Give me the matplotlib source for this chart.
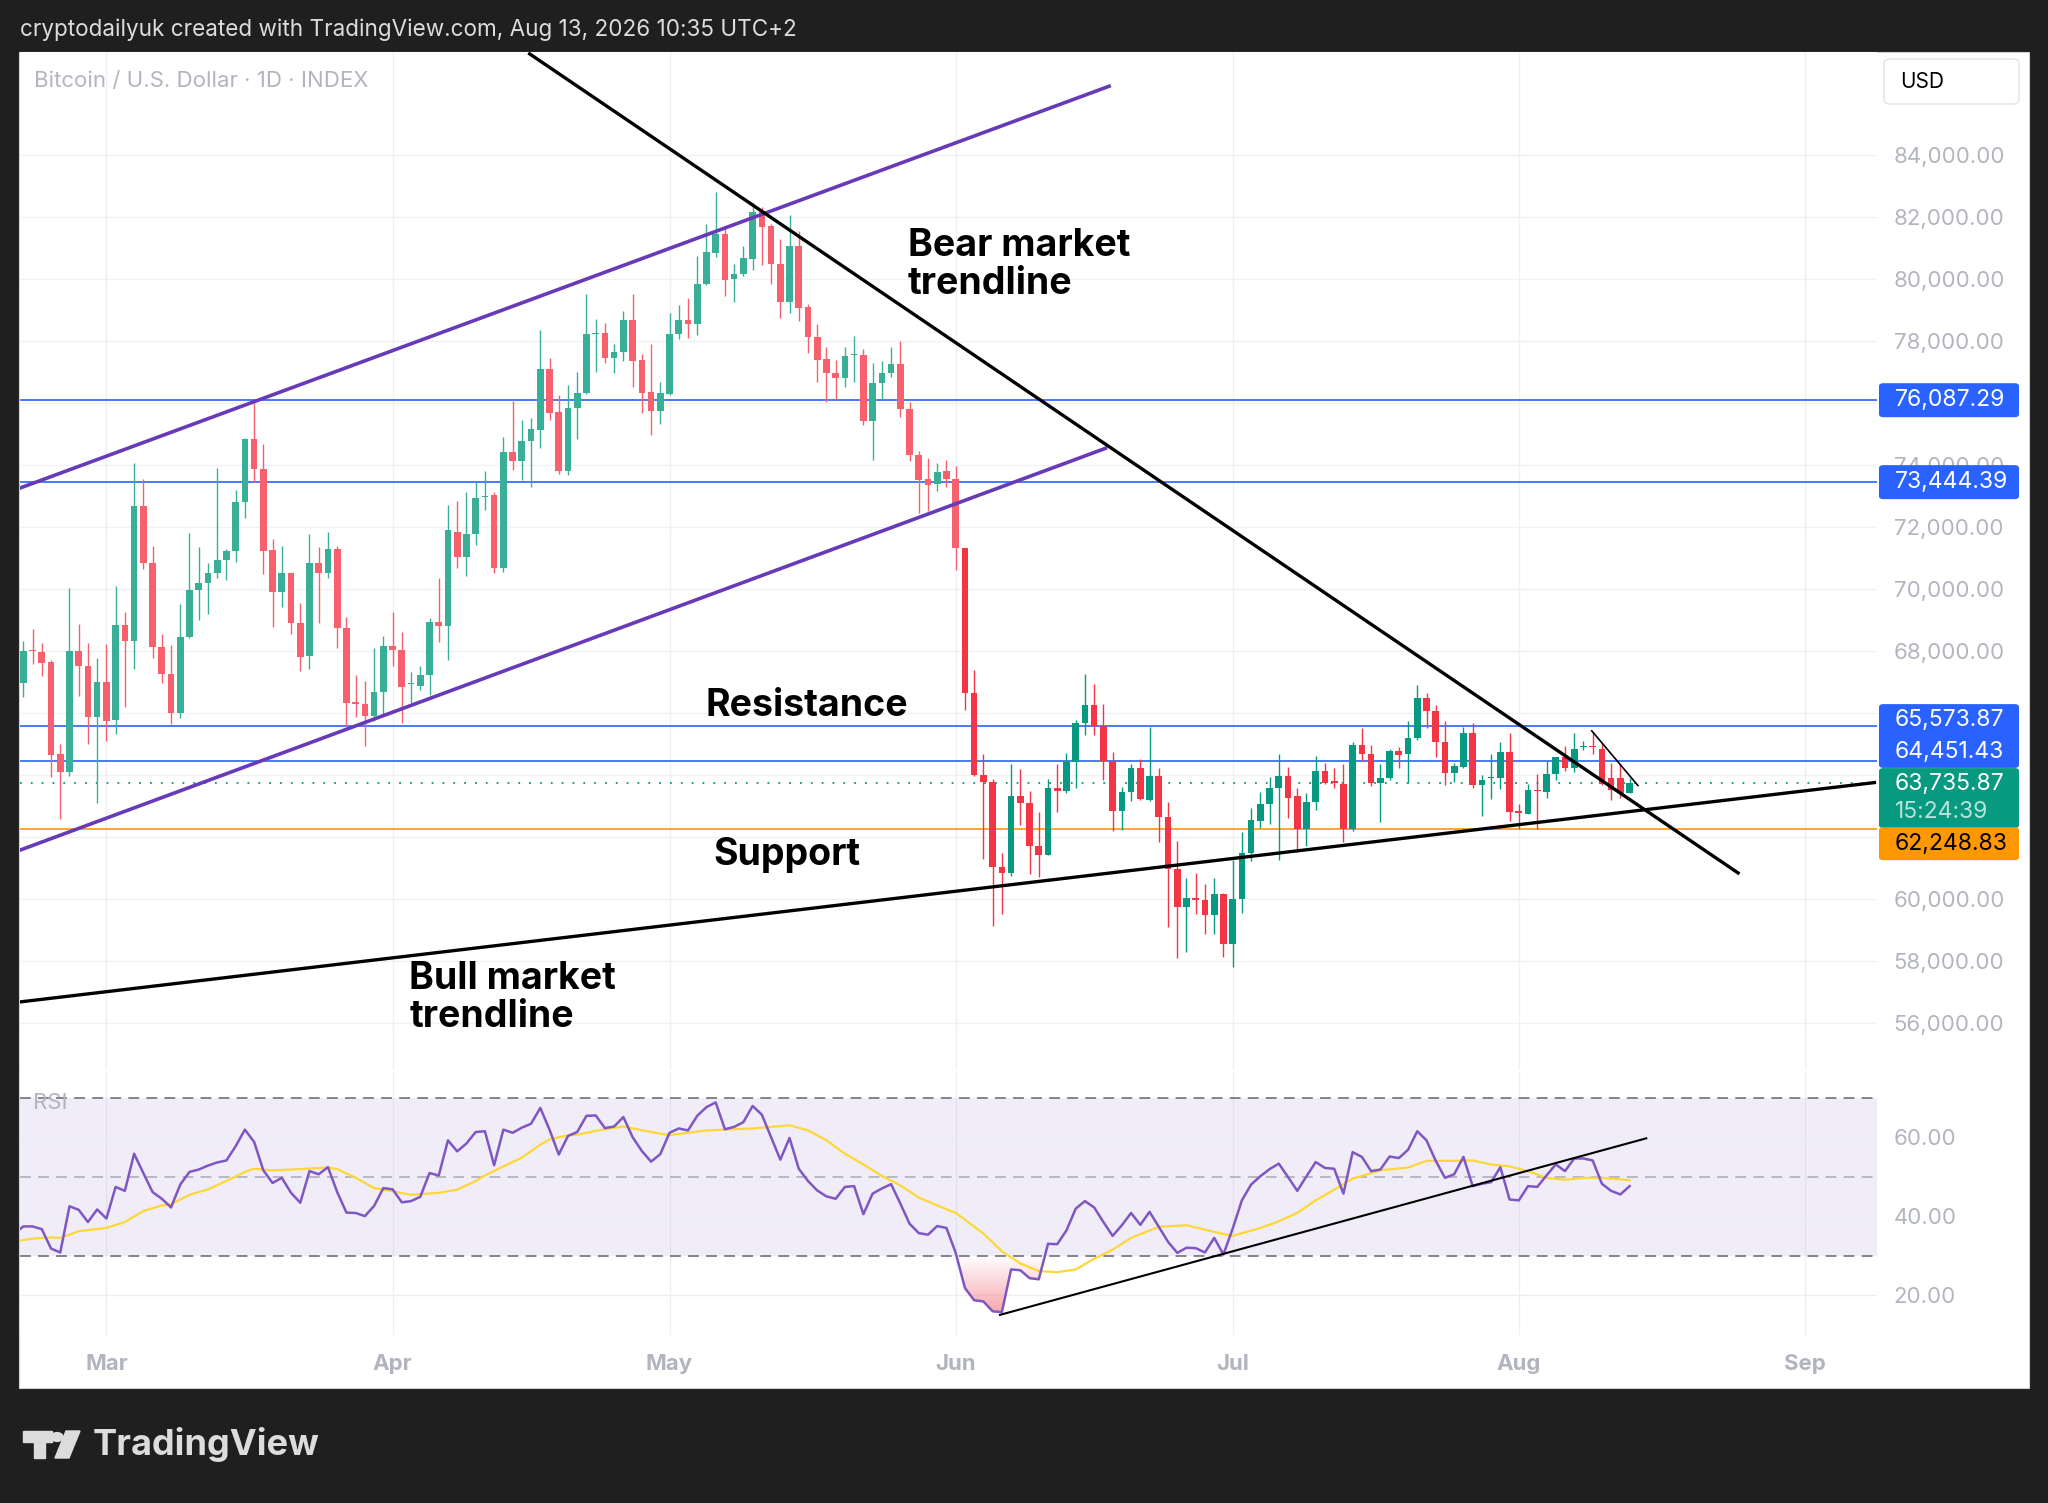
import numpy as np
import matplotlib
matplotlib.use("Agg")
import matplotlib.pyplot as plt
from matplotlib.patches import Rectangle, FancyBboxPatch, Polygon, Circle, PathPatch

plt.rcParams['font.family'] = ['Inter', 'DejaVu Sans']

# --- data (daily candles, Feb 20 -> Aug 13) ---
opens = [66970, 68030, 67970, 67650, 64670, 64080, 68000, 67510, 65880, 67000,
         65770, 68820, 68330, 72670, 70850, 68110, 67250, 65990, 68450, 69950,
         70200, 70510, 70940, 71210, 72810, 74850, 73880, 71240, 69910, 70510,
         68885, 67830, 70850, 70500, 71280, 68740, 66340, 66300, 65900, 66690,
         68150, 68040, 66920, 66860, 67230, 68940, 68800, 71850, 71040, 71770,
         72950, 73030, 70690, 74410, 74120, 74760, 75120, 77090, 75710, 73790,
         75840, 76330, 78230, 78270, 77440, 77630, 78680, 77380, 76350, 75740,
         76300, 78220, 78670, 78540, 79830, 80850, 81440, 80010, 80170, 80630,
         82190, 81710, 80470, 79270, 81060, 79080, 78140, 77410, 76950, 76790,
         77540, 77550, 75420, 76640, 76980, 77260, 75810, 74330, 73540, 73380,
         73790, 73560, 71310, 66650, 64000, 63780, 61040, 60850, 63310, 63080,
         61710, 61430, 63570, 63490, 64420, 65660, 66240, 65570, 64450, 62850,
         63460, 64230, 63200, 63950, 62630, 60980, 59740, 60030, 59950, 59480,
         60170, 58540, 59990, 61480, 62520, 63060, 63590, 63980, 63330, 62250,
         63140, 64110, 63790, 63700, 62250, 64960, 64690, 63750, 63890, 64780,
         64660, 65200, 66480, 66050, 65050, 64070, 64270, 65340, 63680, 63890,
         63890, 64730, 62830, 62750, 63520, 63460, 64030, 64590, 64230, 64910,
         64930, 64830, 63890, 63890, 63410]
highs = [68320, 68710, 68240, 67700, 65000, 70040, 68880, 68240, 67760, 68220,
         70100, 69260, 74050, 73560, 71400, 68560, 68180, 69520, 71800, 71340,
         70830, 73890, 71290, 73200, 74880, 76000, 74660, 71610, 71370, 70550,
         69530, 71770, 71340, 71820, 71370, 69090, 67210, 67040, 68080, 68470,
         69250, 68600, 67320, 67500, 69070, 70360, 72720, 72840, 73120, 73440,
         73800, 73140, 74900, 76060, 75440, 75500, 78360, 77440, 76250, 76570,
         77010, 79510, 78720, 78570, 77890, 78970, 79510, 77570, 77890, 76660,
         78910, 79160, 79400, 80740, 81780, 82810, 81660, 80470, 81060, 82460,
         82320, 81760, 81280, 82050, 81550, 79180, 78560, 77790, 77380, 77810,
         78160, 77750, 77300, 77360, 77810, 78000, 76020, 74460, 74210, 74050,
         74170, 73980, 71310, 67390, 64680, 63870, 61490, 64360, 64200, 63490,
         62800, 63870, 64360, 64710, 65760, 67240, 66930, 66300, 64740, 63620,
         64360, 64510, 65550, 64210, 63120, 61880, 60680, 60840, 60470, 60680,
         60200, 61270, 62160, 62930, 63440, 63920, 64660, 64270, 63570, 63410,
         64620, 64370, 64230, 64340, 65050, 65520, 64960, 64340, 64830, 64910,
         65740, 66890, 66650, 66250, 65740, 64370, 65530, 65660, 64000, 64660,
         65070, 65340, 63060, 63710, 64020, 64460, 64590, 64940, 65340, 65090,
         65390, 65020, 64370, 64340, 63910]
lows = [66500, 67575, 67190, 63930, 62580, 63950, 66550, 65000, 63080, 65100,
        65310, 66180, 67430, 70650, 67780, 66950, 65640, 65850, 68400, 68990,
        69200, 70360, 70300, 70880, 72280, 73460, 70490, 68770, 69400, 68530,
        67340, 67430, 68885, 70350, 68100, 65560, 65860, 64930, 65740, 65940,
        67500, 65670, 66310, 66750, 66580, 68280, 67700, 70690, 70420, 71410,
        72560, 70500, 70550, 73850, 73520, 73300, 74560, 75440, 73700, 73680,
        74830, 76300, 77000, 77300, 76960, 77360, 76500, 75690, 74960, 75310,
        76250, 78050, 78090, 78200, 79800, 80710, 79450, 79270, 80100, 80280,
        80440, 79830, 78730, 78910, 78650, 77620, 76660, 76040, 76100, 76500,
        76660, 75300, 74150, 76090, 76850, 75550, 74110, 72450, 72520, 73160,
        73280, 70600, 66100, 63950, 61300, 59130, 59510, 60750, 62380, 60790,
        60720, 61400, 62800, 63430, 63590, 65300, 65300, 63820, 62190, 62230,
        63150, 63180, 63150, 61840, 59100, 58080, 58300, 59500, 58860, 58860,
        58110, 57790, 59560, 61220, 62290, 62420, 61270, 62610, 61520, 61700,
        62880, 63700, 63590, 61840, 62200, 64450, 63650, 62480, 63840, 64230,
        63730, 65120, 65500, 64590, 63680, 63760, 64210, 63570, 62690, 63220,
        63550, 62500, 62270, 62740, 62270, 63270, 63820, 64110, 64080, 64800,
        64670, 63690, 63200, 63250, 63410]
closes = [67990, 67990, 67620, 64650, 64080, 68000, 67510, 65880, 67000, 65750,
          68820, 68330, 72670, 70850, 68110, 67250, 65990, 68450, 69950, 70200,
          70510, 70940, 71210, 72790, 74850, 73880, 71220, 69910, 70510, 68900,
          67805, 70850, 70500, 71280, 68740, 66310, 66300, 65900, 66690, 68170,
          68040, 66830, 66940, 67230, 68940, 68800, 71910, 71040, 71770, 72920,
          73010, 70690, 74410, 74120, 74760, 75150, 77090, 75690, 73790, 75840,
          76330, 78210, 78250, 77440, 77630, 78680, 77360, 76320, 75740, 76320,
          78220, 78670, 78540, 79830, 80880, 81440, 79970, 80170, 80670, 82160,
          81680, 80470, 79270, 81060, 79050, 78110, 77390, 76950, 76790, 77520,
          77560, 75420, 76640, 76980, 77260, 75810, 74330, 73500, 73350, 73770,
          73560, 71310, 66650, 64000, 63780, 61040, 60850, 63310, 63080, 61710,
          61430, 63570, 63470, 64420, 65660, 66240, 65570, 64450, 62850, 63460,
          64230, 63230, 63950, 62630, 60980, 59740, 60020, 59980, 59480, 60170,
          58540, 59990, 61480, 62550, 63060, 63590, 63980, 63270, 62250, 63140,
          64110, 63750, 63730, 62250, 64960, 64690, 63730, 63890, 64780, 64640,
          65200, 66480, 66050, 65050, 64070, 64290, 65340, 63680, 63840, 63910,
          64730, 62800, 62770, 63500, 63490, 64030, 64590, 64230, 64850, 64940,
          64910, 63700, 63500, 63410, 63736]

# RSI(14), first value is the day before the first candle
rsi = [35.5, 37.4, 37.4, 36.7, 31.8, 30.8, 42.5, 41.6, 38.5, 41.7, 39.4,
       47.4, 46.4, 55.8, 50.9, 46.1, 44.4, 42.2, 48.0, 51.2, 51.8,
       52.8, 53.6, 54.1, 57.7, 61.9, 58.8, 51.6, 48.4, 49.7, 45.9,
       43.4, 51.4, 50.6, 52.4, 46.1, 40.9, 40.8, 40.0, 42.6, 47.1,
       46.8, 43.5, 43.8, 44.9, 50.9, 50.3, 59.2, 56.4, 58.4, 61.3,
       61.5, 52.9, 61.9, 61.1, 62.4, 63.4, 67.4, 61.9, 55.6, 60.3,
       61.3, 65.4, 65.5, 62.3, 62.7, 65.1, 60.0, 56.5, 53.8, 55.7,
       61.1, 62.2, 61.7, 65.4, 67.6, 68.8, 62.0, 62.6, 63.8, 67.9,
       65.7, 60.0, 54.3, 59.8, 52.0, 48.9, 46.5, 45.0, 44.4, 47.4,
       47.6, 40.5, 45.7, 47.0, 48.1, 43.2, 38.1, 35.7, 35.3, 37.5,
       37.0, 30.7, 21.8, 18.7, 18.4, 15.9, 15.7, 26.5, 26.3, 24.3,
       24.0, 33.0, 32.9, 36.4, 41.9, 43.8, 42.2, 38.5, 35.0, 37.7,
       40.8, 37.8, 41.1, 37.3, 33.5, 30.7, 32.0, 31.9, 30.8, 34.5,
       30.3, 36.8, 44.0, 48.0, 50.1, 51.9, 53.3, 49.9, 46.4, 50.1,
       53.7, 52.2, 52.0, 45.7, 56.2, 55.0, 51.4, 51.8, 55.1, 54.7,
       56.8, 61.5, 59.2, 54.0, 49.7, 50.6, 55.0, 47.6, 48.2, 48.6,
       52.4, 44.2, 44.0, 47.6, 47.4, 50.3, 53.1, 51.4, 54.6, 54.6,
       54.1, 48.2, 46.4, 45.5, 47.6]
# RSI moving average, read at a set of days
ma_day = [-1, 1, 3, 4, 6, 9, 11, 13, 15, 16, 18, 20, 22, 24, 25, 27, 29, 33, 34,
          36, 38, 40, 42, 45, 47, 49, 50, 52, 54, 56, 57, 59, 60, 62, 65, 68, 70,
          74, 79, 83, 85, 87, 89, 91, 93, 95, 97, 99, 101, 102, 104, 106, 108, 110,
          112, 114, 116, 118, 120, 123, 126, 129, 131, 134, 136, 138, 140, 142,
          144, 147, 150, 152, 155, 157, 159, 161, 163, 165, 167, 169, 171, 174]
ma_val = [33.6, 34.3, 34.6, 34.5, 36.2, 37.0, 38.5, 41.3, 42.7, 43.0, 45.4, 46.8,
          48.9, 51.2, 52.0, 51.6, 51.8, 52.3, 51.9, 49.7, 47.1, 46.3, 45.4, 45.9,
          46.7, 48.9, 50.3, 52.6, 54.8, 58.1, 59.4, 60.5, 60.6, 61.6, 62.7, 61.3,
          60.5, 61.7, 62.2, 63.0, 61.7, 59.2, 55.8, 53.1, 50.2, 47.8, 44.7, 42.7,
          40.8, 39.1, 35.6, 31.1, 28.0, 26.1, 25.8, 26.5, 29.2, 31.5, 34.5, 37.3,
          37.7, 36.0, 35.0, 37.0, 38.7, 40.8, 44.0, 46.7, 49.5, 51.6, 52.3, 54.0,
          54.0, 54.1, 53.1, 52.6, 51.4, 49.7, 49.2, 49.7, 49.7, 49.1]

month_labels = ['Mar', 'Apr', 'May', 'Jun', 'Jul', 'Aug', 'Sep']
month_days = [9, 40, 70, 101, 131, 162, 193]

price_ticks = [56000, 58000, 60000, 68000, 70000, 72000, 74000, 78000, 80000, 82000, 84000]
grid_prices = list(range(56000, 86000, 2000))

blue_levels = [76087.29, 73444.39, 65573.87, 64451.43]
support_level = 62248.83
last_price = 63735.87
countdown = '15:24:39'

# drawn lines: (day, price) end points
bear_line = ([54.7, 185.9], [87289, 60807])
bull_line = ([-0.42, 200.7], [56674, 63758])
channel_top = ([-0.42, 117.8], [73247, 86235])
channel_bottom = ([-0.42, 117.4], [61566, 74554])
small_line = ([169.9, 174.9], [65422, 63657])
rsi_line = ([105.8, 175.8], [15.0, 59.7])

# --- layout (pixels) ---
W, H = 2048, 1503
fig = plt.figure(figsize=(W / 100, H / 100), dpi=100, facecolor='#1f1f1f')


def fx(x):
    return x / W


def fy(y):
    return 1 - y / H


fig.patches.append(Rectangle((fx(19), fy(1388)), (2029 - 19) / W, (1388 - 52) / H,
                             transform=fig.transFigure, facecolor='white',
                             edgecolor='#d0d0d0', lw=0.8, zorder=-10))

ax = fig.add_axes([fx(20), fy(1070), (1877 - 20) / W, (1070 - 52) / H])
ax2 = fig.add_axes([fx(20), fy(1335), (1877 - 20) / W, (1335 - 1072) / H])
for a in (ax, ax2):
    a.set_facecolor('white')
    for s in a.spines.values():
        s.set_visible(False)
    a.set_xlim(-0.36, 200.8)
    a.yaxis.tick_right()
    a.tick_params(axis='y', length=0, pad=12, labelsize=16, labelcolor='#b2b5be')
    a.tick_params(axis='x', length=0)
    for d in month_days:
        a.axvline(d, color='#eef0f4', lw=1, zorder=0)

ax.set_ylim(54480, 87320)
ax.set_yticks(price_ticks)
ax.set_yticklabels([f'{v:,.2f}' for v in price_ticks])
for v in grid_prices:
    ax.axhline(v, color='#f0f1f4', lw=1, zorder=0)
ax.set_xticks([])

# candles
x = np.arange(len(opens))
o = np.array(opens, float)
c = np.array(closes, float)
hi = np.array(highs, float)
lo = np.array(lows, float)
up = c >= o
early = x < 102
col = np.where(up, np.where(early, '#3aaf98', '#089981'),
               np.where(early, '#f6616d', '#f23645'))
ax.vlines(x, lo, hi, colors=col, lw=1.0, zorder=3)
body = np.maximum(np.abs(c - o), 35)
ax.bar(x, body, bottom=np.minimum(o, c), width=0.72, color=col, lw=0, zorder=4)

# levels
for lv in blue_levels:
    ax.axhline(lv, color='#2962ff', lw=1.2, zorder=2)
ax.axhline(support_level, color='#ff9800', lw=1.2, zorder=2)
ax.axhline(last_price, color='#089981', lw=1.3, ls=(0, (1, 5)), zorder=2)

# trendlines
ax.plot(*channel_top, color='#673ab7', lw=2.6, zorder=5, solid_capstyle='butt')
ax.plot(*channel_bottom, color='#673ab7', lw=2.6, zorder=5, solid_capstyle='butt')
ax.plot(*bear_line, color='black', lw=2.4, zorder=6, solid_capstyle='butt')
ax.plot(*bull_line, color='black', lw=2.4, zorder=6, solid_capstyle='butt')
ax.plot(*small_line, color='black', lw=1.2, zorder=6)

# annotations
ann = dict(fontsize=27, fontweight='bold', color='black', va='center', ha='left',
           linespacing=1.06, zorder=7)
ax.text(95.8, 80450, 'Bear market\ntrendline', **ann)
ax.text(73.9, 66210, 'Resistance', **ann)
ax.text(74.7, 61400, 'Support', **ann)
ax.text(41.8, 56810, 'Bull market\ntrendline', **ann)

ax.text(0.0075, 1 - (81 - 52) / (1070 - 52), 'Bitcoin / U.S. Dollar · 1D · INDEX',
        transform=ax.transAxes, fontsize=16, color='#b2b5be', va='center', ha='left')

# RSI pane
rx = np.arange(-1, len(rsi) - 1)
r = np.array(rsi)
ax2.set_ylim(9.9, 76.5)
ax2.axhspan(30, 70, color='#7e57c2', alpha=0.1, lw=0, zorder=0)
for v in (20, 40, 60):
    ax2.axhline(v, color='#eceef2', lw=1, zorder=0)
ax2.axhline(70, color='#787b86', lw=1.3, ls=(0, (6, 4)), zorder=1)
ax2.axhline(30, color='#787b86', lw=1.3, ls=(0, (6, 4)), zorder=1)
ax2.axhline(50, color='#b2b5be', lw=1.3, ls=(0, (6, 4)), zorder=1)
ax2.set_yticks([20, 40, 60])
ax2.set_yticklabels(['20.00', '40.00', '60.00'])

fb = ax2.fill_between(rx, r, 30, where=r < 30, interpolate=True, color='none', lw=0)
grad = np.zeros((100, 1, 4))
grad[:, 0, 0] = 0.96
grad[:, 0, 1] = 0.52
grad[:, 0, 2] = 0.56
grad[:, 0, 3] = np.linspace(0.75, 0.0, 100)
img = ax2.imshow(grad, extent=[95, 115, 15, 30], origin='lower', aspect='auto', zorder=2)
for p in fb.get_paths()[:1]:
    img.set_clip_path(PathPatch(p, transform=ax2.transData))
ax2.set_xlim(-0.36, 200.8)
ax2.set_ylim(9.9, 76.5)

ax2.plot(ma_day, ma_val, color='#fdd835', lw=1.6, zorder=3)
ax2.plot(rx, r, color='#7e57c2', lw=1.8, zorder=4)
ax2.plot(*rsi_line, color='black', lw=1.5, zorder=5)
ax2.text(1.1, 68.6, 'RSI', fontsize=16, color='#b2b5be', va='center', zorder=6)

ax2.set_xticks(month_days)
ax2.set_xticklabels(month_labels, fontsize=16, fontweight='bold', color='#b2b5be')
ax2.tick_params(axis='x', pad=14)

# price tags on the scale
fig.canvas.draw()


def ypix(p):
    return H - ax.transData.transform((0, p))[1]


def tag(top, bot, face, txt, tcol, ty=None):
    fig.patches.append(FancyBboxPatch((fx(1879), fy(bot)), (2019 - 1879) / W, (bot - top) / H,
                                      boxstyle='round,pad=0,rounding_size=0.002',
                                      transform=fig.transFigure, facecolor=face,
                                      edgecolor='none', zorder=10))
    if ty is None:
        ty = (top + bot) / 2
    fig.text(fx(1895), fy(ty), txt, color=tcol, fontsize=16.5, va='center', ha='left', zorder=11)


yb = [ypix(v) for v in blue_levels]
tag(yb[0] - 17, yb[0] + 17, '#2962ff', f'{blue_levels[0]:,.2f}', 'white')
tag(yb[1] - 17, yb[1] + 17, '#2962ff', f'{blue_levels[1]:,.2f}', 'white')
tag(yb[2] - 22, yb[3] + 7, '#2962ff', '', 'white')
fig.text(fx(1895), fy(yb[2] - 6), f'{blue_levels[2]:,.2f}', color='white', fontsize=16.5,
         va='center', zorder=11)
fig.text(fx(1895), fy(yb[3] - 9), f'{blue_levels[3]:,.2f}', color='white', fontsize=16.5,
         va='center', zorder=11)
yl = ypix(last_price)
tag(yl - 15, yl + 45, '#089981', f'{last_price:,.2f}', 'white', ty=yl + 1)
fig.text(fx(1895), fy(yl + 29), countdown, color='#b9e3da', fontsize=16.5, va='center', zorder=11)
ys = ypix(support_level)
tag(ys - 2, ys + 31, '#ff9800', f'{support_level:,.2f}', 'black')

# USD box
fig.patches.append(FancyBboxPatch((fx(1884), fy(104)), (2019 - 1884) / W, 45 / H,
                                  boxstyle='round,pad=0,rounding_size=0.003',
                                  transform=fig.transFigure, facecolor='white',
                                  edgecolor='#e0e3eb', lw=1, zorder=10))
fig.text(fx(1900), fy(82), 'USD', color='black', fontsize=15, va='center', zorder=11)

# header and footer
fig.text(fx(20), fy(30), 'cryptodailyuk created with TradingView.com, Aug 13, 2026 10:35 UTC+2',
         color='#dcdcdc', fontsize=16.2, va='center')
logo = '#dcdcdc'
fig.patches.append(Polygon([(fx(23), fy(1431)), (fx(52), fy(1431)), (fx(52), fy(1442)),
                            (fx(45), fy(1442)), (fx(45), fy(1458)), (fx(34), fy(1458)),
                            (fx(34), fy(1442)), (fx(23), fy(1442))],
                           closed=True, transform=fig.transFigure, color=logo))
fig.patches.append(Circle((fx(57), fy(1437)), 6 / W, transform=fig.transFigure, color=logo))
fig.patches.append(Polygon([(fx(66), fy(1431)), (fx(80), fy(1431)), (fx(69), fy(1458)),
                            (fx(55), fy(1458))], closed=True, transform=fig.transFigure,
                           color=logo))
fig.text(fx(93), fy(1445), 'TradingView', color=logo, fontsize=26, fontweight='bold',
         va='center')

fig.savefig('out.png', dpi=100, facecolor=fig.get_facecolor())
